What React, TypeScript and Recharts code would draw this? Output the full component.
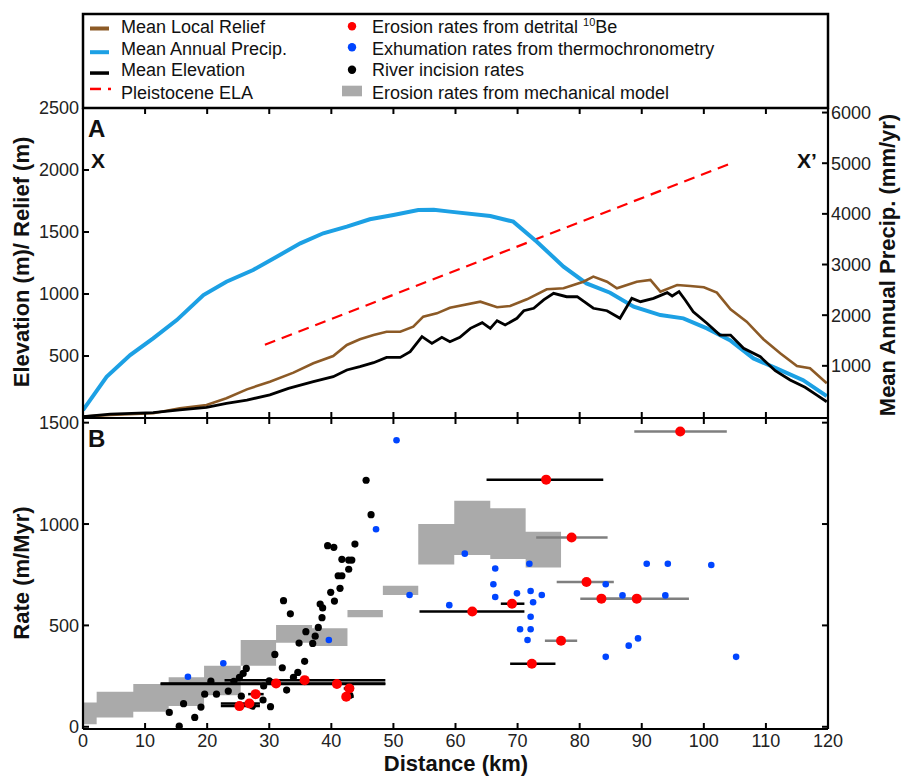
import React from "react";
import { ComposedChart, Line, Area, Scatter, XAxis, YAxis, ErrorBar } from "recharts";

const W = 902;
const H = 776;
const FONT = '"Liberation Sans", Arial, Helvetica, sans-serif';

// ---- panel A profiles: [distance km, value]
const reliefProfile = [
  [0, 11], [4.4, 24], [11.3, 38], [15.6, 78], [19.9, 105], [23.1, 159], [26.4, 231], [30.1, 293],
  [33.9, 366], [37.1, 441], [40.3, 500], [42.5, 589], [44.6, 635], [46.8, 669], [48.9, 696],
  [51.1, 696], [53.2, 736], [54.8, 817], [57, 844], [59.1, 889], [64, 938], [66.7, 893], [68.8, 903],
  [71.5, 957], [74.7, 1038], [77.4, 1046], [80.6, 1099], [82.2, 1140], [84.4, 1099], [86, 1046],
  [89.2, 1099], [91.4, 1113], [93, 1019], [95.7, 1073], [97.8, 1065], [100, 1054], [102.1, 1011],
  [104.3, 877], [106.9, 777], [109.6, 635], [112.3, 522], [115, 419], [117.1, 401], [119.8, 280],
];

const elevationProfile = [
  [0, 11], [4.4, 32], [11.3, 43], [15.6, 65], [19.9, 86], [23.1, 118], [26.4, 145], [30.1, 186],
  [33.1, 239], [37.1, 293], [40.3, 333], [42.5, 387], [44.6, 414], [46.8, 446], [48.9, 489],
  [51.1, 489], [52.7, 535], [54.6, 656], [56.2, 602], [57.8, 651], [59.1, 615], [60.7, 651],
  [62.4, 723], [64.3, 769], [65.6, 723], [66.7, 785], [68, 750], [69.9, 804], [71, 865], [72.6, 885],
  [74.2, 952], [75.8, 1005], [77.9, 978], [79.6, 978], [82.2, 885], [84.4, 865], [86.5, 804],
  [88.4, 965], [89.8, 938], [91.9, 965], [94.1, 1011], [94.9, 984], [96, 1019], [97, 952],
  [98.3, 857], [100.5, 764], [102.6, 669], [104.3, 669], [106.4, 562], [109.1, 494], [111.5, 381],
  [113.9, 306], [116.3, 248], [118.2, 185], [119.8, 131],
];

const precipProfile = [
  [0, 125], [3.8, 783], [7.6, 1211], [11.3, 1541], [15.1, 1903], [19.4, 2397], [23.1, 2660],
  [27.4, 2891], [31.2, 3154], [35, 3419], [38.7, 3617], [42.5, 3747], [46.2, 3893], [50, 3978],
  [54, 4077], [56.5, 4080], [59.1, 4044], [65.6, 3958], [69.3, 3846], [73.1, 3451], [77.4, 2957],
  [81.1, 2628], [84.9, 2443], [88.7, 2166], [93, 2002], [96.7, 1937], [100.5, 1739], [104.2, 1508],
  [108, 1146], [111.7, 949], [116, 717], [119.8, 401],
];

const elaLine = [[29.3, 590], [104.7, 2060]];

// ---- panel B rates: [distance km, rate m/Myr]
const incisionRates = [
  [13.9, 71], [15.5, 3], [16.2, 114], [18.0, 46], [19.0, 97], [19.6, 161], [20.6, 225], [21.5, 161],
  [23.4, 176], [24.3, 224], [25.2, 244], [25.5, 151], [25.8, 263], [26.3, 288], [27.3, 102],
  [29.0, 132], [29.1, 201], [30.2, 99], [30.0, 227], [30.9, 357], [32.1, 291], [32.3, 622],
  [32.8, 181], [33.4, 557], [33.9, 244], [34.6, 268], [34.8, 413], [35.7, 323], [35.9, 469],
  [37.0, 411], [37.4, 447], [37.9, 490], [38.2, 605], [38.5, 538], [38.6, 586], [39.4, 893],
  [39.9, 663], [40.4, 885], [40.5, 620], [41.1, 745], [41.4, 683], [41.7, 745], [41.7, 826],
  [42.8, 777], [42.8, 822], [43.3, 822], [43.8, 901], [45.6, 1216], [46.4, 1046], [43.1, 191], [43.0, 155],
];

const thermoRates = [
  [16.9, 247], [22.6, 313], [39.6, 428], [47.2, 974], [50.5, 1413], [52.6, 650], [59.0, 600],
  [61.5, 854], [66.4, 781], [66.1, 703], [66.4, 640], [69.9, 658], [71.9, 804], [72.1, 670],
  [72.5, 614], [73.9, 650], [72.1, 543], [70.4, 481], [72.1, 481], [71.6, 428], [84.2, 703],
  [86.9, 648], [90.8, 804], [94.2, 804], [93.8, 648], [101.2, 798], [89.4, 436], [87.9, 400],
  [84.2, 345], [105.2, 345],
];

// 10Be: [km, rate, bar from km, bar to km]
const beBlackBars = [
  [74.6, 1219, 65.0, 83.8], [69.1, 607, 67.3, 71.1], [62.7, 569, 54.2, 71.1], [72.3, 311, 68.8, 76.1],
  [25.2, 102, 22.2, 28.5], [26.8, 115, 22.2, 28.5], [27.8, 161, 26.6, 29.1], [31.1, 214, 12.5, 48.7],
  [35.7, 230, 22.8, 48.7], [40.9, 211, 12.5, 48.7], [42.9, 189, 42.0, 43.6], [42.4, 148, 42.0, 43.6],
];
const beGreyBars = [
  [96.2, 1456, 88.8, 103.7], [78.7, 934, 73.0, 84.5], [81.1, 714, 76.3, 85.5],
  [83.5, 632, 80.1, 89.0], [89.2, 632, 83.5, 97.6], [77.0, 424, 74.4, 79.6],
];

// mechanical model band: [step start km, low, high]
const modelSteps = [
  [0, 13, 120], [2.2, 46, 173], [8.1, 74, 211], [13.8, 102, 244], [19.5, 156, 301], [25.4, 301, 428],
  [31.1, 415, 502], [36.9, 398, 486], [42.6, 540, 576], [48.3, 650, 696], [54.0, 801, 1000],
  [59.8, 847, 1115], [65.6, 827, 1078], [71.3, 786, 962], [77.0, 786, 962],
];

const kmTicks = [0, 10, 20, 30, 40, 50, 60, 70, 80, 90, 100, 110, 120];
const elevTicks = [500, 1000, 1500, 2000, 2500];
const precipTicks = [1000, 2000, 3000, 4000, 5000, 6000];
const rateTicks = [0, 500, 1000, 1500];

const pts = (arr: number[][]) => arr.map(([km, v]) => ({ km, v }));
const withBars = (arr: number[][]) => arr.map(([km, v, lo, hi]) => ({ km, v, err: [km - lo, hi - km] }));

const BROWN = "#8c5a26";
const SKY = "#1ca0e4";
const BLUE = "#0045ff";
const RED = "#ff0000";
const BAND = "#aaaaaa";

const axisLine = { stroke: "#000", strokeWidth: 2.2 };
const TL = 6;

function axisTick(side: "left" | "right" | "top" | "bottom", withLabel: boolean) {
  return function Tick(props: any) {
    const { x, y, payload } = props;
    const v = payload.value;
    const txt = { fontSize: 18, fill: "#222", fontFamily: FONT };
    if (side === "left") {
      return (
        <g>
          <line x1={x} y1={y} x2={x + TL} y2={y} stroke="#000" strokeWidth={2} />
          {withLabel && <text x={x - 4} y={y} dy="0.36em" textAnchor="end" {...txt}>{v}</text>}
        </g>
      );
    }
    if (side === "right") {
      return (
        <g>
          <line x1={x} y1={y} x2={x - TL} y2={y} stroke="#000" strokeWidth={2} />
          {withLabel && <text x={x + 3} y={y} dy="0.36em" textAnchor="start" {...txt}>{v}</text>}
        </g>
      );
    }
    if (side === "top") {
      return <line x1={x} y1={y} x2={x} y2={y + TL} stroke="#000" strokeWidth={2} />;
    }
    return (
      <g>
        <line x1={x} y1={y} x2={x} y2={y - TL} stroke="#000" strokeWidth={2} />
        {withLabel && <text x={x} y={y + 18} textAnchor="middle" {...txt}>{v}</text>}
      </g>
    );
  };
}

const dot = (r: number, fill: string) => (p: any) => <circle cx={p.cx} cy={p.cy} r={r} fill={fill} />;

function kmAxes(labels: boolean) {
  return [
    <XAxis key="b" xAxisId="b" type="number" dataKey="km" domain={[0, 120]} ticks={kmTicks} interval={0}
      height={1} tickSize={0} tickMargin={0} tickLine={false} axisLine={axisLine}
      tick={axisTick("bottom", labels)} allowDataOverflow />,
    <XAxis key="t" xAxisId="t" orientation="top" type="number" dataKey="km" domain={[0, 120]}
      ticks={kmTicks} interval={0} height={1} tickSize={0} tickMargin={0} tickLine={false}
      axisLine={axisLine} tick={axisTick("top", false)} allowDataOverflow />,
  ];
}

function PanelA() {
  return (
    <ComposedChart width={W} height={H} margin={{ top: 107, right: 0, bottom: 357, left: 0 }}>
      {kmAxes(false)}
      <YAxis yAxisId="elev" type="number" width={83} domain={[0, 2500]} ticks={elevTicks} interval={0}
        tickSize={0} tickMargin={0} tickLine={false} axisLine={axisLine} tick={axisTick("left", true)}
        allowDataOverflow />
      <YAxis yAxisId="precip" orientation="right" type="number" width={74} domain={[-30, 6090]}
        ticks={precipTicks} interval={0} tickSize={0} tickMargin={0} tickLine={false} axisLine={axisLine}
        tick={axisTick("right", true)} allowDataOverflow />
      <Line xAxisId="b" yAxisId="elev" data={pts(elaLine)} dataKey="v" stroke={RED} strokeWidth={2.2}
        strokeDasharray="11 7" dot={false} activeDot={false} isAnimationActive={false} />
      <Line xAxisId="b" yAxisId="precip" data={pts(precipProfile)} dataKey="v" type="linear" stroke={SKY}
        strokeWidth={4} dot={false} activeDot={false} isAnimationActive={false} />
      <Line xAxisId="b" yAxisId="elev" data={pts(reliefProfile)} dataKey="v" type="linear" stroke={BROWN}
        strokeWidth={2.6} dot={false} activeDot={false} isAnimationActive={false} />
      <Line xAxisId="b" yAxisId="elev" data={pts(elevationProfile)} dataKey="v" type="linear" stroke="#000"
        strokeWidth={2.8} dot={false} activeDot={false} isAnimationActive={false} />
    </ComposedChart>
  );
}

function PanelB() {
  const band = modelSteps.map(([km, lo, hi]) => ({ km, band: [lo, hi] }));
  return (
    <ComposedChart width={W} height={H} margin={{ top: 417, right: 0, bottom: 46, left: 0 }}>
      {kmAxes(true)}
      <YAxis yAxisId="rate" type="number" dataKey="v" width={83} domain={[-11, 1523]} ticks={rateTicks}
        interval={0} tickSize={0} tickMargin={0} tickLine={false} axisLine={axisLine}
        tick={axisTick("left", true)} allowDataOverflow />
      <YAxis yAxisId="rate2" orientation="right" type="number" dataKey="v" width={74} domain={[-11, 1523]}
        ticks={rateTicks} interval={0} tickSize={0} tickMargin={0} tickLine={false} axisLine={axisLine}
        tick={axisTick("right", false)} allowDataOverflow />
      <Area xAxisId="b" yAxisId="rate" data={band} dataKey="band" type="stepAfter" fill={BAND}
        fillOpacity={1} stroke="none" dot={false} activeDot={false} isAnimationActive={false} />
      <Scatter xAxisId="b" yAxisId="rate" data={pts(incisionRates)} shape={dot(3.6, "#000")}
        isAnimationActive={false} />
      <Scatter xAxisId="b" yAxisId="rate" data={pts(thermoRates)} shape={dot(3.3, BLUE)}
        isAnimationActive={false} />
      <Scatter xAxisId="b" yAxisId="rate" data={withBars(beGreyBars)} shape={dot(5, RED)}
        isAnimationActive={false}>
        <ErrorBar dataKey="err" direction="x" width={0} stroke="#7f7f7f" strokeWidth={2.5}
          isAnimationActive={false} />
      </Scatter>
      <Scatter xAxisId="b" yAxisId="rate" data={withBars(beBlackBars)} shape={dot(5, RED)}
        isAnimationActive={false}>
        <ErrorBar dataKey="err" direction="x" width={0} stroke="#000" strokeWidth={2.5}
          isAnimationActive={false} />
      </Scatter>
    </ComposedChart>
  );
}

function Overlay() {
  const leg = { fontSize: 18, fill: "#111", fontFamily: FONT };
  const title = { fontSize: 22, fontWeight: 700, fill: "#111", fontFamily: FONT };
  const rows = [33, 54.7, 76.3, 98.7];
  return (
    <svg width={W} height={H} style={{ position: "absolute", left: 0, top: 0 }}>
      <rect x={83} y={14} width={745} height={94} fill="none" stroke="#000" strokeWidth={2.5} />
      <rect x={90} y={rows[0] - 6.5} width={19} height={4} fill={BROWN} />
      <rect x={90} y={rows[1] - 4.5} width={19} height={4} fill={SKY} />
      <rect x={90} y={rows[2] - 5} width={19} height={3.5} fill="#000" />
      <rect x={90} y={rows[3] - 11} width={11} height={2.5} fill={RED} />
      <rect x={108} y={rows[3] - 11} width={3} height={2.5} fill={RED} />
      <text x={121} y={rows[0]} {...leg}>Mean Local Relief</text>
      <text x={121} y={rows[1]} {...leg}>Mean Annual Precip.</text>
      <text x={121} y={rows[2]} {...leg}>Mean Elevation</text>
      <text x={121} y={rows[3]} {...leg}>Pleistocene ELA</text>
      <circle cx={352} cy={rows[0] - 6.7} r={4.2} fill={RED} />
      <circle cx={352} cy={rows[1] - 7.4} r={4.2} fill={BLUE} />
      <circle cx={352} cy={rows[2] - 6.6} r={4.2} fill="#000" />
      <rect x={342} y={rows[3] - 13} width={20} height={10.6} fill={BAND} />
      <text x={372} y={rows[0]} {...leg}>
        Erosion rates from detrital <tspan fontSize={11} dy={-7}>10</tspan>
        <tspan dy={7}>Be</tspan>
      </text>
      <text x={372} y={rows[1]} {...leg}>Exhumation rates from thermochronometry</text>
      <text x={372} y={rows[2]} {...leg}>River incision rates</text>
      <text x={372} y={rows[3]} {...leg}>Erosion rates from mechanical model</text>

      <text x={88} y={137} fontSize={24} fontWeight={700} fontFamily={FONT} fill="#111">A</text>
      <text x={91} y={168} fontSize={21} fontWeight={700} fontFamily={FONT} fill="#111">X</text>
      <text x={797} y={168} fontSize={21} fontWeight={700} fontFamily={FONT} fill="#111">X’</text>
      <text x={88} y={446.5} fontSize={24} fontWeight={700} fontFamily={FONT} fill="#111">B</text>

      <text transform="translate(28.5,262) rotate(-90)" textAnchor="middle" {...title}>
        Elevation (m)/ Relief (m)
      </text>
      <text transform="translate(895,265) rotate(-90)" textAnchor="middle" {...title}>
        Mean Annual Precip. (mm/yr)
      </text>
      <text transform="translate(28.5,573) rotate(-90)" textAnchor="middle" {...title}>
        Rate (m/Myr)
      </text>
      <text x={456} y={770.5} textAnchor="middle" {...title}>Distance (km)</text>
    </svg>
  );
}

export default function App() {
  return (
    <div style={{ position: "absolute", left: 0, top: 0, width: W, height: H, background: "#fff", overflow: "hidden", fontFamily: FONT }}>
      <div style={{ position: "absolute", left: 0, top: 0 }}>
        <PanelB />
      </div>
      <div style={{ position: "absolute", left: 0, top: 0 }}>
        <PanelA />
      </div>
      <Overlay />
    </div>
  );
}
